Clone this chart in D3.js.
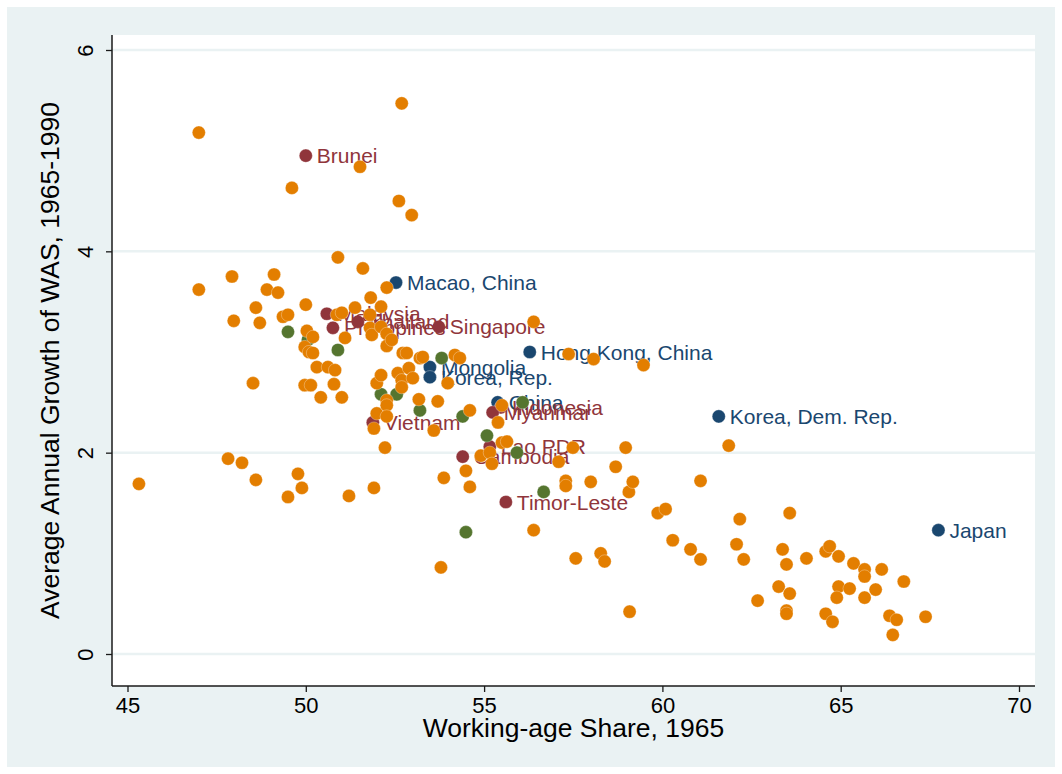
<!DOCTYPE html>
<html><head><meta charset="utf-8">
<script src="https://cdn.jsdelivr.net/npm/d3@7"></script>
<style>html,body{margin:0;padding:0;background:#fff;}svg{display:block;}</style>
</head><body>
<svg id="chart" width="1062" height="774"></svg>
<script>
// ---- data ----
const xTicks = [45, 50, 55, 60, 65, 70];
const yTicks = [0, 2, 4, 6];
const xTitle = "Working-age Share, 1965";
const yTitle = "Average Annual Growth of WAS, 1965-1990";

const navyNames = ["Macao, China", "Hong Kong, China", "Korea, Dem. Rep.", "Japan", "Mongolia", "Korea, Rep.", "China"];
const navyX = [52.53, 56.28, 61.58, 67.74, 53.48, 53.48, 55.38];
const navyY = [3.69, 3.00, 2.36, 1.23, 2.85, 2.75, 2.50];

const maroonNames = ["Brunei", "Malaysia", "Thailand", "Philippines", "Singapore", "Indonesia", "Myanmar", "Lao PDR", "Cambodia", "Timor-Leste", "Vietnam"];
const maroonX = [50.00, 50.59, 51.46, 50.76, 53.73, 55.47, 55.24, 55.16, 54.40, 55.61, 51.88];
const maroonY = [4.95, 3.38, 3.30, 3.24, 3.25, 2.45, 2.40, 2.06, 1.96, 1.51, 2.30];

const greenX = [49.50, 50.06, 50.90, 53.81, 52.11, 52.55, 53.20, 54.40, 56.08, 55.08, 55.92, 56.67, 54.49];
const greenY = [3.20, 3.12, 3.02, 2.94, 2.58, 2.58, 2.42, 2.36, 2.50, 2.17, 2.00, 1.61, 1.21];

const orangeX = [45.32, 47.00, 47.00, 47.93, 47.98, 47.82, 48.21, 48.52, 48.60, 48.60,
  48.71, 48.91, 49.11, 49.22, 49.36, 49.50, 49.50, 49.61, 49.78, 49.89,
  50.00, 49.97, 50.09, 49.97, 50.14, 50.03, 50.20, 50.20, 50.31, 50.42,
  50.62, 50.82, 50.79, 50.90, 50.87, 51.01, 51.10, 51.01, 51.21, 51.38,
  51.52, 51.60, 51.82, 51.80, 51.80, 51.85, 51.91, 51.91, 51.99, 51.99,
  52.11, 52.11, 52.11, 52.22, 52.27, 52.27, 52.27, 52.27, 52.27, 52.27,
  52.41, 52.58, 52.61, 52.69, 52.69, 52.69, 52.72, 52.83, 52.89, 53.00,
  52.97, 53.17, 53.20, 53.28, 53.59, 53.70, 53.87, 53.79, 53.98, 54.18,
  54.32, 54.49, 54.60, 54.60, 54.91, 55.16, 55.22, 55.50, 55.39, 55.50,
  55.64, 56.39, 56.39, 57.09, 57.37, 57.29, 57.29, 57.49, 57.57, 58.07,
  57.99, 58.27, 58.38, 58.69, 58.97, 59.06, 59.08, 59.17, 59.47, 59.87,
  60.09, 60.29, 60.79, 61.07, 61.07, 61.86,
  62.08, 62.28, 62.17, 62.67, 63.26, 63.37, 63.48, 63.48, 63.48, 63.57,
  63.57, 64.04, 64.58, 64.69, 64.58, 64.77, 64.94, 64.94, 65.25, 64.89,
  65.36, 65.67, 65.67, 65.67, 65.98, 66.15, 66.37, 66.57, 66.46, 66.77, 67.38];
const orangeY = [1.69, 5.18, 3.62, 3.75, 3.31, 1.94, 1.90, 2.69, 1.73, 3.44,
  3.29, 3.62, 3.77, 3.59, 3.35, 3.37, 1.56, 4.63, 1.79, 1.65,
  3.47, 3.05, 3.00, 2.67, 2.67, 3.21, 3.15, 2.99, 2.85, 2.55,
  2.85, 2.82, 2.68, 3.94, 3.37, 3.39, 3.14, 2.55, 1.57, 3.44,
  4.84, 3.83, 3.54, 3.37, 3.24, 3.17, 1.65, 2.24, 2.39, 2.69,
  2.77, 3.45, 3.25, 2.05, 3.18, 3.06, 3.64, 2.52, 2.47, 2.36,
  3.12, 2.79, 4.50, 2.72, 2.65, 5.47, 2.99, 2.99, 2.84, 2.74,
  4.36, 2.53, 2.94, 2.95, 2.22, 2.51, 1.75, 0.86, 2.69, 2.97,
  2.94, 1.82, 1.66, 2.42, 1.97, 2.00, 1.89, 2.47, 2.30, 2.10,
  2.11, 3.30, 1.23, 1.91, 2.98, 1.72, 1.67, 2.05, 0.95, 2.93,
  1.71, 1.00, 0.92, 1.86, 2.05, 1.61, 0.42, 1.71, 2.87, 1.40,
  1.44, 1.13, 1.04, 0.94, 1.72, 2.07,
  1.09, 0.94, 1.34, 0.53, 0.67, 1.04, 0.89, 0.43, 0.40, 0.60,
  1.40, 0.95, 1.02, 1.07, 0.40, 0.32, 0.97, 0.67, 0.65, 0.56,
  0.90, 0.84, 0.77, 0.56, 0.64, 0.84, 0.38, 0.34, 0.19, 0.72, 0.37];

// ---- style ----
const C = {bg: "#eaf2f3", navy: "#1a476f", maroon: "#90353b", green: "#55752f", orange: "#e37e00", axis: "#1a1a1a"};
const FONT = "'Liberation Sans', Arial, Helvetica, sans-serif";
const plot = {left: 112, right: 1035, top: 35, bottom: 686};
const R = 6.6;

const svg = d3.select("#chart");
svg.append("rect").attr("x", 7).attr("y", 7).attr("width", 1048).attr("height", 760).attr("fill", C.bg);
svg.append("rect").attr("x", plot.left).attr("y", plot.top)
  .attr("width", plot.right - plot.left).attr("height", plot.bottom - plot.top).attr("fill", "#fff");

const x = d3.scaleLinear().domain([45, 70]).range([127.5, 1019]);
const y = d3.scaleLinear().domain([0, 6]).range([654, 50]);

// gridlines
svg.append("g").selectAll("line").data(yTicks).join("line")
  .attr("x1", plot.left).attr("x2", plot.right)
  .attr("y1", d => y(d)).attr("y2", d => y(d))
  .attr("stroke", C.bg).attr("stroke-width", 2.5);

// axes
const xAxis = svg.append("g").attr("transform", `translate(0,${plot.bottom})`)
  .call(d3.axisBottom(x).tickValues(xTicks).tickFormat(d3.format("d")).tickSize(6).tickPadding(4).tickSizeOuter(0));
xAxis.select(".domain").attr("d", `M${plot.left},0H${plot.right}`).attr("stroke", C.axis).attr("stroke-width", 1.5);
xAxis.selectAll(".tick line").attr("stroke", C.axis).attr("stroke-width", 1.3);
xAxis.selectAll(".tick text").attr("font-family", FONT).attr("font-size", 22).attr("fill", "#000").attr("dy", "0.75em");

const yAxis = svg.append("g").attr("transform", `translate(${plot.left},0)`)
  .call(d3.axisLeft(y).tickValues(yTicks).tickFormat(d3.format("d")).tickSize(6).tickPadding(4).tickSizeOuter(0));
yAxis.select(".domain").attr("d", `M0,${plot.top}V${plot.bottom}`).attr("stroke", C.axis).attr("stroke-width", 1.5);
yAxis.selectAll(".tick line").attr("stroke", C.axis).attr("stroke-width", 1.3);
yAxis.selectAll(".tick text").attr("font-family", FONT).attr("font-size", 22).attr("fill", "#000")
  .attr("x", null).attr("dy", null).attr("text-anchor", "middle")
  .attr("transform", "translate(-19,0) rotate(-90)");

// titles
svg.append("text").attr("x", (plot.left + plot.right) / 2).attr("y", 737)
  .attr("text-anchor", "middle").attr("font-family", FONT).attr("font-size", 26.5).attr("fill", "#000").text(xTitle);
svg.append("text").attr("transform", `translate(59,${(plot.top + plot.bottom) / 2}) rotate(-90)`)
  .attr("text-anchor", "middle").attr("font-family", FONT).attr("font-size", 26.5).attr("fill", "#000").text(yTitle);

const g = svg.append("g");
function drawSeries(xs, ys, color, names) {
  const pts = xs.map((v, i) => ({x: v, y: ys[i], n: names ? names[i] : null}));
  g.append("g").selectAll("circle").data(pts).join("circle")
    .attr("cx", d => x(d.x)).attr("cy", d => y(d.y)).attr("r", R)
    .attr("fill", color).attr("stroke", "#fff").attr("stroke-width", 0.5).attr("stroke-opacity", 0.6);
  if (names) {
    g.append("g").selectAll("text").data(pts).join("text")
      .attr("x", d => x(d.x) + 11).attr("y", d => y(d.y)).attr("dy", "0.36em")
      .attr("font-family", FONT).attr("font-size", 21).attr("fill", color).text(d => d.n);
  }
}
drawSeries(navyX, navyY, C.navy, navyNames);
drawSeries(maroonX, maroonY, C.maroon, maroonNames);
drawSeries(greenX, greenY, C.green, null);
drawSeries(orangeX, orangeY, C.orange, null);
</script>
</body></html>
